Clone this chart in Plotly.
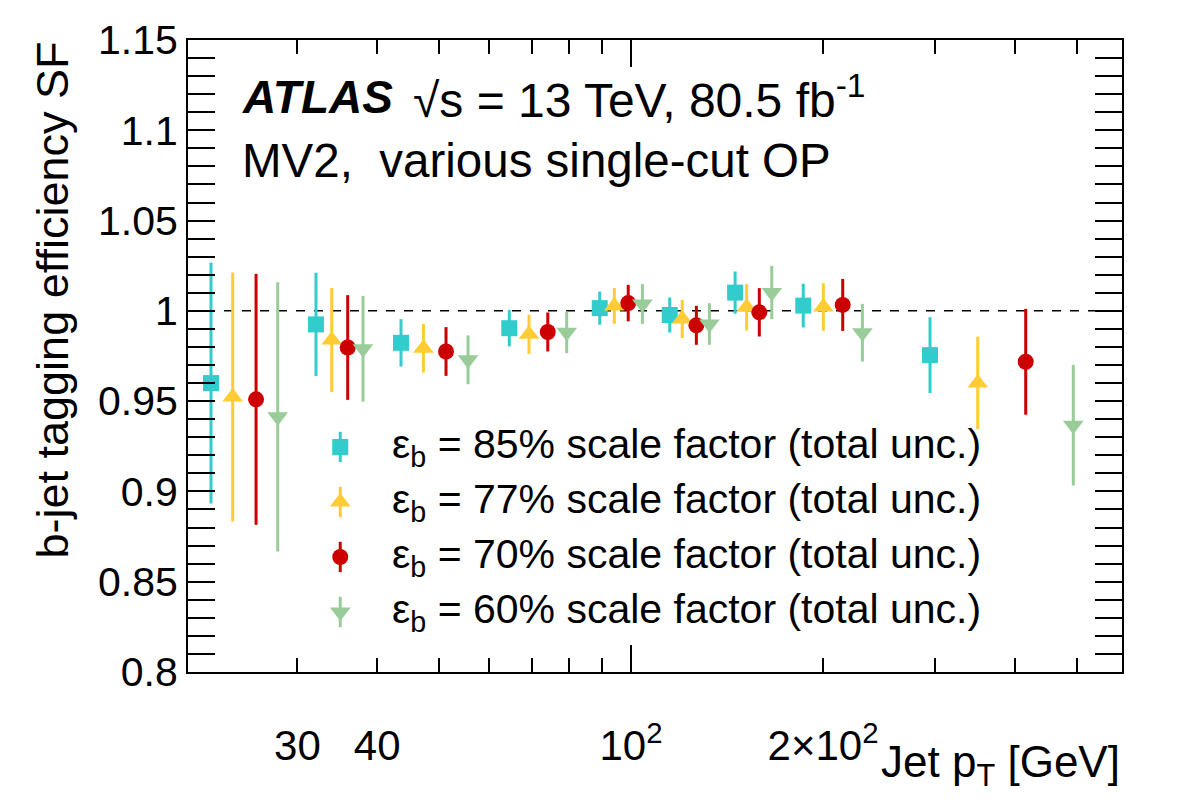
import plotly.graph_objects as go

# ---------------- data ----------------
x_85 = [21.96, 32.08, 43.6, 64.45, 89.33, 115.0, 145.6, 186.2, 294.2]
y_85 = [0.9600, 0.9925, 0.9823, 0.9904, 1.0015, 0.9977, 1.0101, 1.0029, 0.9755]
e_85 = [0.0667, 0.0286, 0.0131, 0.0101, 0.0092, 0.0097, 0.0117, 0.0121, 0.0210]

x_77 = [23.75, 33.95, 47.27, 69.2, 94.15, 120.3, 151.8, 200.2, 349.5]
y_77 = [0.9523, 0.9838, 0.9793, 0.9870, 1.0027, 0.9955, 1.0020, 1.0021, 0.9601]
e_77 = [0.0689, 0.0288, 0.0135, 0.0108, 0.0099, 0.0106, 0.0129, 0.0132, 0.0256]

x_70 = [25.84, 35.97, 51.29, 74.05, 99.0, 126.6, 158.9, 214.7, 415.6]
y_70 = [0.9510, 0.9797, 0.9775, 0.9883, 1.0043, 0.9920, 0.9992, 1.0033, 0.9718]
e_70 = [0.0695, 0.0290, 0.0135, 0.0108, 0.0101, 0.0108, 0.0134, 0.0144, 0.0293]

x_60 = [27.94, 38.01, 55.53, 79.29, 104.2, 132.7, 166.2, 230.5, 493.5]
y_60 = [0.9413, 0.9790, 0.9729, 0.9881, 1.0038, 0.9927, 1.0102, 0.9879, 0.9367]
e_60 = [0.0746, 0.0293, 0.0135, 0.0115, 0.0110, 0.0115, 0.0147, 0.0160, 0.0334]

series_names = ["85%", "77%", "70%", "60%"]
colors = ["#33CCCC", "#FFCC33", "#CC0000", "#99CC99"]
symbols = ["square", "triangle-up", "circle", "triangle-down"]
sizes = [16, 18, 16, 18]

x_major_ticks = [30, 40, 100, 200]
x_major_text = ["30", "40", "10<sup>2</sup>", "2×10<sup>2</sup>"]
x_minor_ticks = [50, 60, 70, 80, 90, 300, 400, 500]

x_range_log = [1.3056, 2.7696]
y_range = [0.8, 1.15]

FONT = "Liberation Sans, Arial, Helvetica, sans-serif"

fig = go.Figure()

data = [(x_85, y_85, e_85), (x_77, y_77, e_77), (x_70, y_70, e_70), (x_60, y_60, e_60)]
for (xs, ys, es), name, c, s, sz in zip(data, series_names, colors, symbols, sizes):
    fig.add_trace(go.Scatter(
        x=xs, y=ys, mode="markers", name=name, showlegend=False,
        marker=dict(color=c, symbol=s, size=sz, line=dict(width=0)),
        error_y=dict(type="data", array=es, visible=True, color=c, thickness=3, width=0),
    ))

# empty trace on the overlay axis that carries the long tick at 100
fig.add_trace(go.Scatter(x=[], y=[], xaxis="x2", yaxis="y", showlegend=False))

# legend glyphs (drawn on a hidden 0-1 overlay axis)
leg_y = [0.356, 0.269, 0.182, 0.095]
leg_x = 0.163
for ly, name, c, s, sz in zip(leg_y, series_names, colors, symbols, sizes):
    fig.add_trace(go.Scatter(
        x=[leg_x], y=[ly], xaxis="x3", yaxis="y3", mode="markers", showlegend=False,
        marker=dict(color=c, symbol=s, size=sz, line=dict(width=0)),
        error_y=dict(type="constant", value=0.024, visible=True, color=c, thickness=3, width=0),
        hoverinfo="skip",
    ))

annotations = []
for ly, name in zip(leg_y, series_names):
    annotations.append(dict(
        x=0.2163, y=ly, xref="paper", yref="paper", xanchor="left", yanchor="middle",
        text="ε<sub>b</sub> = " + name + " scale factor (total unc.)",
        showarrow=False, font=dict(family=FONT, size=41, color="black"),
    ))

annotations += [
    dict(x=0.0557, y=0.9098, xref="paper", yref="paper", xanchor="left", yanchor="middle",
         text="<b><i>ATLAS</i></b>", showarrow=False, font=dict(family=FONT, size=46, color="black")),
    dict(x=0.2387, y=0.9098, xref="paper", yref="paper", xanchor="left", yanchor="middle",
         text="√s = 13 TeV, 80.5 fb<sup>-1</sup>", showarrow=False,
         font=dict(family=FONT, size=48, color="black")),
    dict(x=0.0557, y=0.810, xref="paper", yref="paper", xanchor="left", yanchor="middle",
         text="MV2,  various single-cut OP", showarrow=False,
         font=dict(family=FONT, size=47.5, color="black")),
    dict(x=-0.1456, y=1.0, xref="paper", yref="paper", xanchor="center", yanchor="top",
         text="b-jet tagging efficiency SF", textangle=-90, showarrow=False,
         font=dict(family=FONT, size=45, color="black")),
    dict(x=1.0, y=-0.147, xref="paper", yref="paper", xanchor="right", yanchor="middle",
         text="Jet p<sub>T</sub> [GeV]", showarrow=False,
         font=dict(family=FONT, size=44, color="black")),
]

fig.update_layout(
    width=1182, height=803,
    margin=dict(l=188, r=60, t=40, b=131, pad=0),
    paper_bgcolor="white", plot_bgcolor="white",
    showlegend=False,
    font=dict(family=FONT, size=40, color="black"),
    annotations=annotations,
    shapes=[dict(type="line", xref="paper", yref="y", x0=0, x1=1, y0=1, y1=1,
                 line=dict(color="black", width=1.5, dash="dash"), layer="below")],
    xaxis=dict(
        type="log", range=x_range_log, showgrid=False, zeroline=False,
        showline=True, linecolor="black", linewidth=2, mirror="allticks",
        ticks="inside", ticklen=14, tickwidth=2, tickcolor="black",
        tickmode="array", tickvals=x_major_ticks, ticktext=x_major_text,
        tickfont=dict(family=FONT, size=42), ticklabelstandoff=36,
        minor=dict(ticks="inside", ticklen=14, tickwidth=2, tickcolor="black",
                   tickmode="array", tickvals=x_minor_ticks, showgrid=False),
    ),
    xaxis2=dict(
        type="log", range=x_range_log, overlaying="x", anchor="y", side="bottom",
        showgrid=False, zeroline=False, showline=False, mirror="allticks",
        ticks="inside", ticklen=27, tickwidth=2, tickcolor="black",
        tickmode="array", tickvals=[100], showticklabels=False,
    ),
    xaxis3=dict(range=[0, 1], overlaying="x", anchor="y3", visible=False),
    yaxis3=dict(range=[0, 1], overlaying="y", anchor="x3", visible=False),
    yaxis=dict(
        range=y_range, showgrid=False, zeroline=False,
        showline=True, linecolor="black", linewidth=2, mirror="allticks",
        ticks="inside", ticklen=27, tickwidth=2, tickcolor="black",
        tick0=0.8, dtick=0.05, tickfont=dict(family=FONT, size=41),
        minor=dict(ticks="inside", ticklen=13, tickwidth=2, tickcolor="black",
                   dtick=0.01, showgrid=False),
    ),
)

fig.write_html("out.html")
